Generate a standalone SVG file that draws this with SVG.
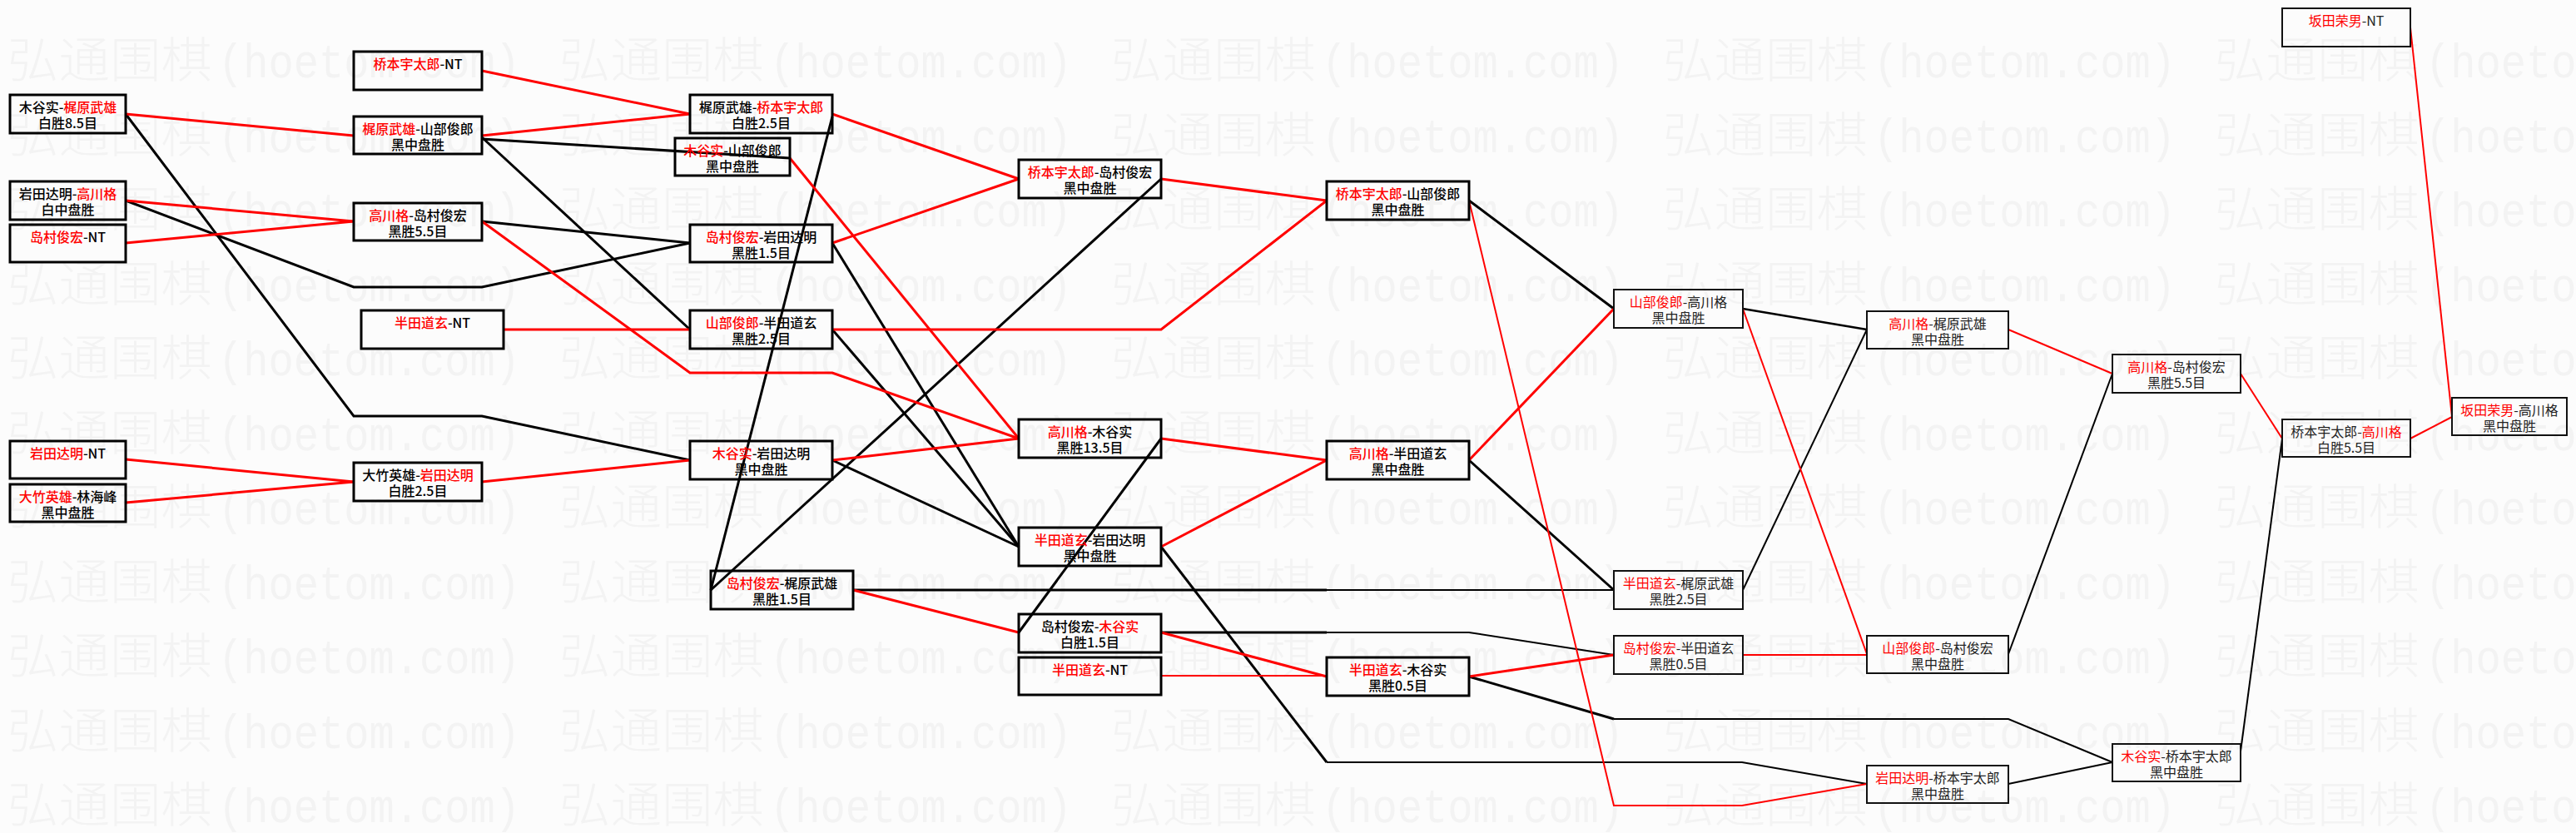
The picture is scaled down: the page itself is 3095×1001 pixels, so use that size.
<svg xmlns="http://www.w3.org/2000/svg" xmlns:xlink="http://www.w3.org/1999/xlink" width="3095" height="1001" viewBox="0 0 3095 1001">
<style>
.k{fill:none;stroke:#000;stroke-width:3}
.km{fill:none;stroke:#000;stroke-width:2.5}
.kt{fill:none;stroke:#000;stroke-width:2}
.r{fill:none;stroke:#f00;stroke-width:3}
.rt{fill:none;stroke:#f00;stroke-width:2}
.bx{fill:none;stroke:#000;stroke-width:3}
.bs{fill:none;stroke:#111;stroke-width:2}
.t{font-family:"Noto Sans CJK SC","Noto Sans CJK JP",sans-serif;font-size:16px;font-weight:500;text-anchor:middle;fill:#000}
.ts{font-family:"Noto Sans CJK SC","Noto Sans CJK JP",sans-serif;font-size:16px;text-anchor:middle;fill:#222}
.red{fill:#f00}
.wc{font-family:"Noto Sans CJK SC",sans-serif;font-size:58px;font-weight:300;fill:#f3f3f3}
.wl{font-family:"Liberation Mono",monospace;font-size:58px;fill:#f3f3f3}
</style>
<defs>
<g id="wm">
<text class="wc" x="0" y="0" textLength="246" lengthAdjust="spacingAndGlyphs">弘通围棋</text>
<text class="wl" x="253" y="0" textLength="363" lengthAdjust="spacingAndGlyphs">(hoetom.com)</text>
</g>
</defs>
<rect x="0" y="0" width="3095" height="1001" fill="#fcfcfc"/>
<g id="watermark">
<use xlink:href="#wm" x="9" y="93"/><use xlink:href="#wm" x="672" y="93"/><use xlink:href="#wm" x="1335" y="93"/><use xlink:href="#wm" x="1998" y="93"/><use xlink:href="#wm" x="2661" y="93"/>
<use xlink:href="#wm" x="9" y="182.5"/><use xlink:href="#wm" x="672" y="182.5"/><use xlink:href="#wm" x="1335" y="182.5"/><use xlink:href="#wm" x="1998" y="182.5"/><use xlink:href="#wm" x="2661" y="182.5"/>
<use xlink:href="#wm" x="9" y="272"/><use xlink:href="#wm" x="672" y="272"/><use xlink:href="#wm" x="1335" y="272"/><use xlink:href="#wm" x="1998" y="272"/><use xlink:href="#wm" x="2661" y="272"/>
<use xlink:href="#wm" x="9" y="361.5"/><use xlink:href="#wm" x="672" y="361.5"/><use xlink:href="#wm" x="1335" y="361.5"/><use xlink:href="#wm" x="1998" y="361.5"/><use xlink:href="#wm" x="2661" y="361.5"/>
<use xlink:href="#wm" x="9" y="451"/><use xlink:href="#wm" x="672" y="451"/><use xlink:href="#wm" x="1335" y="451"/><use xlink:href="#wm" x="1998" y="451"/><use xlink:href="#wm" x="2661" y="451"/>
<use xlink:href="#wm" x="9" y="540.5"/><use xlink:href="#wm" x="672" y="540.5"/><use xlink:href="#wm" x="1335" y="540.5"/><use xlink:href="#wm" x="1998" y="540.5"/><use xlink:href="#wm" x="2661" y="540.5"/>
<use xlink:href="#wm" x="9" y="630"/><use xlink:href="#wm" x="672" y="630"/><use xlink:href="#wm" x="1335" y="630"/><use xlink:href="#wm" x="1998" y="630"/><use xlink:href="#wm" x="2661" y="630"/>
<use xlink:href="#wm" x="9" y="719.5"/><use xlink:href="#wm" x="672" y="719.5"/><use xlink:href="#wm" x="1335" y="719.5"/><use xlink:href="#wm" x="1998" y="719.5"/><use xlink:href="#wm" x="2661" y="719.5"/>
<use xlink:href="#wm" x="9" y="809"/><use xlink:href="#wm" x="672" y="809"/><use xlink:href="#wm" x="1335" y="809"/><use xlink:href="#wm" x="1998" y="809"/><use xlink:href="#wm" x="2661" y="809"/>
<use xlink:href="#wm" x="9" y="898.5"/><use xlink:href="#wm" x="672" y="898.5"/><use xlink:href="#wm" x="1335" y="898.5"/><use xlink:href="#wm" x="1998" y="898.5"/><use xlink:href="#wm" x="2661" y="898.5"/>
<use xlink:href="#wm" x="9" y="988"/><use xlink:href="#wm" x="672" y="988"/><use xlink:href="#wm" x="1335" y="988"/><use xlink:href="#wm" x="1998" y="988"/><use xlink:href="#wm" x="2661" y="988"/>
</g>
<g id="connectors">
<polyline class="k" points="151,137 425,500 579,500 829,553"/>
<polyline class="k" points="151,241 425,345 579,345 829,292"/>
<polyline class="k" points="579,167 949,190"/>
<polyline class="k" points="579,165 829,396"/>
<polyline class="k" points="579,266 829,292"/>
<polyline class="k" points="1000,140 854,709"/>
<polyline class="k" points="1395,215 854,709"/>
<polyline class="k" points="1000,292 1224,657"/>
<polyline class="k" points="1000,396 1224,657"/>
<polyline class="k" points="1000,553 1224,657"/>
<polyline class="k" points="1395,527 1224,760"/>
<polyline class="k" points="1025,709 1594,709"/>
<polyline class="kt" points="1594,709 1939,709"/>
<polyline class="k" points="1395,760 1594,760"/>
<polyline class="kt" points="1594,760 1765,760 1939,787"/>
<polyline class="k" points="1395,657 1594,916"/>
<polyline class="kt" points="1594,916 2093,916 2243,942"/>
<polyline class="k" points="1765,241 1939,371"/>
<polyline class="k" points="1765,553 1939,709"/>
<polyline class="k" points="1765,813 1939,864"/>
<polyline class="kt" points="1939,864 2413,864 2538,916"/>
<polyline class="km" points="2094,371 2243,396"/>
<polyline class="kt" points="2094,709 2243,396"/>
<polyline class="kt" points="2413,786 2538,449"/>
<polyline class="kt" points="2413,942 2538,916"/>
<polyline class="kt" points="2692,903 2742,527"/>
<polyline class="r" points="151,137 425,163"/>
<polyline class="r" points="151,241 425,266"/>
<polyline class="r" points="151,292 425,266"/>
<polyline class="r" points="151,552 425,579"/>
<polyline class="r" points="151,604 425,579"/>
<polyline class="r" points="579,85 829,137"/>
<polyline class="r" points="579,163 829,137"/>
<polyline class="r" points="579,266 829,448 1000,448 1224,527"/>
<polyline class="r" points="605,396 829,396"/>
<polyline class="r" points="579,579 829,553"/>
<polyline class="r" points="1000,137 1224,215"/>
<polyline class="r" points="1000,292 1224,215"/>
<polyline class="r" points="949,190 1224,527"/>
<polyline class="r" points="1000,553 1224,527"/>
<polyline class="r" points="1000,396 1395,396 1594,241"/>
<polyline class="r" points="1395,215 1594,241"/>
<polyline class="r" points="1025,709 1224,760"/>
<polyline class="r" points="1395,527 1594,553"/>
<polyline class="r" points="1395,657 1594,553"/>
<polyline class="r" points="1395,760 1594,813"/>
<polyline class="rt" points="1395,812 1594,812"/>
<polyline class="r" points="1765,553 1939,371"/>
<polyline class="r" points="1765,813 1939,787"/>
<polyline class="rt" points="1765,241 1939,968 2093,968 2243,942"/>
<polyline class="rt" points="2094,371 2243,786"/>
<polyline class="rt" points="2094,787 2243,787"/>
<polyline class="rt" points="2413,396 2538,449"/>
<polyline class="rt" points="2692,449 2742,527"/>
<polyline class="rt" points="2896,33 2946,501"/>
<polyline class="rt" points="2896,527 2946,501"/>
</g>
<g id="A1"><rect class="bx" x="12" y="114" width="139" height="46"/><text class="t" x="81.5" y="134.5">木谷实-<tspan class="red">梶原武雄</tspan></text><text class="t" x="81.5" y="154">白胜8.5目</text></g>
<g id="A2"><rect class="bx" x="12" y="218" width="139" height="46"/><text class="t" x="81.5" y="238.5">岩田达明-<tspan class="red">高川格</tspan></text><text class="t" x="81.5" y="258">白中盘胜</text></g>
<g id="A3"><rect class="bx" x="12" y="270" width="139" height="45"/><text class="t" x="81.5" y="290.5"><tspan class="red">岛村俊宏</tspan>-NT</text></g>
<g id="A4"><rect class="bx" x="12" y="530" width="139" height="45"/><text class="t" x="81.5" y="550.5"><tspan class="red">岩田达明</tspan>-NT</text></g>
<g id="A5"><rect class="bx" x="12" y="582" width="139" height="45"/><text class="t" x="81.5" y="602.5"><tspan class="red">大竹英雄</tspan>-林海峰</text><text class="t" x="81.5" y="622">黑中盘胜</text></g>
<g id="B1"><rect class="bx" x="425" y="62" width="154" height="46"/><text class="t" x="502" y="82.5"><tspan class="red">桥本宇太郎</tspan>-NT</text></g>
<g id="B2"><rect class="bx" x="425" y="140" width="154" height="45"/><text class="t" x="502" y="160.5"><tspan class="red">梶原武雄</tspan>-山部俊郎</text><text class="t" x="502" y="180">黑中盘胜</text></g>
<g id="B3"><rect class="bx" x="425" y="244" width="154" height="45"/><text class="t" x="502" y="264.5"><tspan class="red">高川格</tspan>-岛村俊宏</text><text class="t" x="502" y="284">黑胜5.5目</text></g>
<g id="B4"><rect class="bx" x="434" y="373" width="171" height="46"/><text class="t" x="519.5" y="393.5"><tspan class="red">半田道玄</tspan>-NT</text></g>
<g id="B5"><rect class="bx" x="425" y="556" width="154" height="46"/><text class="t" x="502" y="576.5">大竹英雄-<tspan class="red">岩田达明</tspan></text><text class="t" x="502" y="596">白胜2.5目</text></g>
<g id="C1"><rect class="bx" x="829" y="114" width="171" height="46"/><text class="t" x="914.5" y="134.5">梶原武雄-<tspan class="red">桥本宇太郎</tspan></text><text class="t" x="914.5" y="154">白胜2.5目</text></g>
<g id="C2"><rect class="bx" x="811" y="166" width="138" height="45"/><text class="t" x="880" y="186.5"><tspan class="red">木谷实</tspan>-山部俊郎</text><text class="t" x="880" y="206">黑中盘胜</text></g>
<g id="C3"><rect class="bx" x="829" y="270" width="171" height="45"/><text class="t" x="914.5" y="290.5"><tspan class="red">岛村俊宏</tspan>-岩田达明</text><text class="t" x="914.5" y="310">黑胜1.5目</text></g>
<g id="C4"><rect class="bx" x="829" y="373" width="171" height="46"/><text class="t" x="914.5" y="393.5"><tspan class="red">山部俊郎</tspan>-半田道玄</text><text class="t" x="914.5" y="413">黑胜2.5目</text></g>
<g id="C5"><rect class="bx" x="829" y="530" width="171" height="46"/><text class="t" x="914.5" y="550.5"><tspan class="red">木谷实</tspan>-岩田达明</text><text class="t" x="914.5" y="570">黑中盘胜</text></g>
<g id="C6"><rect class="bx" x="854" y="686" width="171" height="46"/><text class="t" x="939.5" y="706.5"><tspan class="red">岛村俊宏</tspan>-梶原武雄</text><text class="t" x="939.5" y="726">黑胜1.5目</text></g>
<g id="D1"><rect class="bx" x="1224" y="192" width="171" height="46"/><text class="t" x="1309.5" y="212.5"><tspan class="red">桥本宇太郎</tspan>-岛村俊宏</text><text class="t" x="1309.5" y="232">黑中盘胜</text></g>
<g id="D2"><rect class="bx" x="1224" y="504" width="171" height="46"/><text class="t" x="1309.5" y="524.5"><tspan class="red">高川格</tspan>-木谷实</text><text class="t" x="1309.5" y="544">黑胜13.5目</text></g>
<g id="D3"><rect class="bx" x="1224" y="634" width="171" height="46"/><text class="t" x="1309.5" y="654.5"><tspan class="red">半田道玄</tspan>-岩田达明</text><text class="t" x="1309.5" y="674">黑中盘胜</text></g>
<g id="D4"><rect class="bx" x="1224" y="738" width="171" height="46"/><text class="t" x="1309.5" y="758.5">岛村俊宏-<tspan class="red">木谷实</tspan></text><text class="t" x="1309.5" y="778">白胜1.5目</text></g>
<g id="D5"><rect class="bx" x="1224" y="790" width="171" height="45"/><text class="t" x="1309.5" y="810.5"><tspan class="red">半田道玄</tspan>-NT</text></g>
<g id="E1"><rect class="bx" x="1594" y="218" width="171" height="46"/><text class="t" x="1679.5" y="238.5"><tspan class="red">桥本宇太郎</tspan>-山部俊郎</text><text class="t" x="1679.5" y="258">黑中盘胜</text></g>
<g id="E2"><rect class="bx" x="1594" y="530" width="171" height="46"/><text class="t" x="1679.5" y="550.5"><tspan class="red">高川格</tspan>-半田道玄</text><text class="t" x="1679.5" y="570">黑中盘胜</text></g>
<g id="E3"><rect class="bx" x="1594" y="790" width="171" height="46"/><text class="t" x="1679.5" y="810.5"><tspan class="red">半田道玄</tspan>-木谷实</text><text class="t" x="1679.5" y="830">黑胜0.5目</text></g>
<g id="F1"><rect class="bs" x="1939" y="348" width="155" height="46"/><text class="ts" x="2016.5" y="368.5"><tspan class="red">山部俊郎</tspan>-高川格</text><text class="ts" x="2016.5" y="388">黑中盘胜</text></g>
<g id="F2"><rect class="bs" x="1939" y="686" width="155" height="46"/><text class="ts" x="2016.5" y="706.5"><tspan class="red">半田道玄</tspan>-梶原武雄</text><text class="ts" x="2016.5" y="726">黑胜2.5目</text></g>
<g id="F3"><rect class="bs" x="1939" y="764" width="155" height="46"/><text class="ts" x="2016.5" y="784.5"><tspan class="red">岛村俊宏</tspan>-半田道玄</text><text class="ts" x="2016.5" y="804">黑胜0.5目</text></g>
<g id="G1"><rect class="bs" x="2243" y="374" width="170" height="45"/><text class="ts" x="2328" y="394.5"><tspan class="red">高川格</tspan>-梶原武雄</text><text class="ts" x="2328" y="414">黑中盘胜</text></g>
<g id="G2"><rect class="bs" x="2243" y="764" width="170" height="45"/><text class="ts" x="2328" y="784.5"><tspan class="red">山部俊郎</tspan>-岛村俊宏</text><text class="ts" x="2328" y="804">黑中盘胜</text></g>
<g id="G3"><rect class="bs" x="2243" y="920" width="170" height="45"/><text class="ts" x="2328" y="940.5"><tspan class="red">岩田达明</tspan>-桥本宇太郎</text><text class="ts" x="2328" y="960">黑中盘胜</text></g>
<g id="H1"><rect class="bs" x="2538" y="426" width="154" height="46"/><text class="ts" x="2615" y="446.5"><tspan class="red">高川格</tspan>-岛村俊宏</text><text class="ts" x="2615" y="466">黑胜5.5目</text></g>
<g id="H2"><rect class="bs" x="2538" y="894" width="154" height="45"/><text class="ts" x="2615" y="914.5"><tspan class="red">木谷实</tspan>-桥本宇太郎</text><text class="ts" x="2615" y="934">黑中盘胜</text></g>
<g id="I1"><rect class="bs" x="2742" y="10" width="154" height="46"/><text class="ts" x="2819" y="30.5"><tspan class="red">坂田荣男</tspan>-NT</text></g>
<g id="I2"><rect class="bs" x="2742" y="504" width="154" height="45"/><text class="ts" x="2819" y="524.5">桥本宇太郎-<tspan class="red">高川格</tspan></text><text class="ts" x="2819" y="544">白胜5.5目</text></g>
<g id="J1"><rect class="bs" x="2946" y="478" width="138" height="45"/><text class="ts" x="3015" y="498.5"><tspan class="red">坂田荣男</tspan>-高川格</text><text class="ts" x="3015" y="518">黑中盘胜</text></g>
</svg>
